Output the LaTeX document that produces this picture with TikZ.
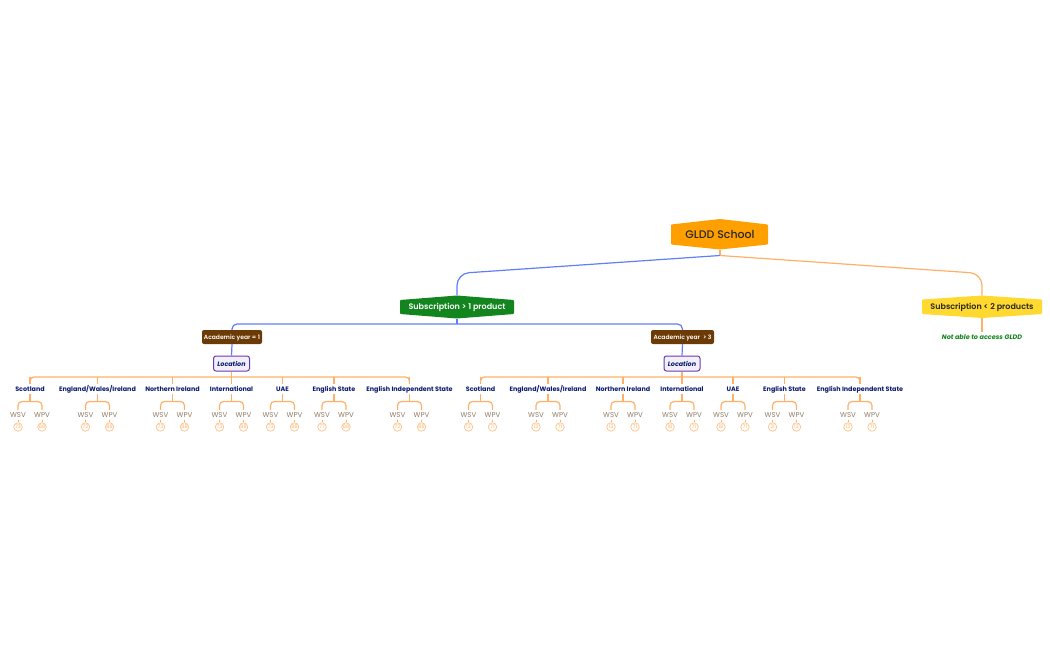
\documentclass[tikz,border=0pt]{standalone}
\usepackage{fontspec}
\setmainfont{Poppins}
\newfontfamily\medf{Poppins Medium}
\newfontfamily\semf{Poppins SemiBold}
\definecolor{bl}{HTML}{5F7EF8}
\definecolor{org}{HTML}{FFB066}
\definecolor{navy}{HTML}{0A1A6E}
\definecolor{gry}{HTML}{8F7862}
\definecolor{grn}{HTML}{12851E}
\definecolor{brn}{HTML}{6B3A05}
\definecolor{ylw}{HTML}{FFD92F}
\definecolor{rootc}{HTML}{FF9F00}
\definecolor{purp}{HTML}{6A3AB2}
\tikzset{
 x=1pt,y=-1pt,
 fixh/.style={text height=.72em,text depth=.2em,inner sep=0pt},
 blueln/.style={draw=bl,line width=1.2pt,rounded corners=5pt},
 orgln/.style={draw=org,line width=1.2pt,rounded corners=4pt},
 hexlbl/.style={fixh,font=\fontsize{8}{9}\selectfont\semf},
 acad/.style={fixh,fill=brn,text=white,rounded corners=2pt,minimum height=14pt,font=\fontsize{6}{7}\selectfont\semf},
 locbox/.style={fixh,fill=purp!8,draw=purp,line width=1pt,rounded corners=2.5pt,minimum height=15pt,text=navy,font=\fontsize{6.4}{7}\selectfont\bfseries\itshape},
 place/.style={fixh,text=navy,font=\fontsize{6.4}{7}\selectfont\bfseries},
 mtr/.style={fixh,text=gry,font=\fontsize{7}{8}\selectfont},
 num/.style={circle,draw=org!80,line width=.7pt,minimum size=8.5pt,inner sep=0pt,text=org,font=\fontsize{5}{5}\selectfont},
}
\newcommand{\leafgrp}[7]{% id, label x, label, wsv x, wpv x, n1, n2
 \node[place] (p#1) at (#2,389) {#3};
 \node[mtr] (s#1) at (#4,414.7) {WSV};
 \node[mtr] (v#1) at (#5,414.7) {WPV};
 \node[num] (ns#1) at (#4,427) {#6};
 \node[num] (nv#1) at (#5,427) {#7};
 \draw[orgln] (#2,377) -- (p#1.north);
 \draw[orgln] (p#1.south) -- (#2,401.5);
 \draw[orgln] (s#1.north) -- (#4,401.5) -- (#5,401.5) -- (v#1.north);
 \draw[orgln,line width=.7pt] (s#1.south) -- (ns#1.north);
 \draw[orgln,line width=.7pt] (v#1.south) -- (nv#1.north);
}
\begin{document}
\begin{tikzpicture}
\useasboundingbox (0,0) rectangle (1050,650);
% hexagons
\fill[rootc,rounded corners=1pt] (671,224.5) -- (720,219) -- (768,224.5) -- (768,244.5) -- (720,249.5) -- (671,244.5) -- cycle;
\fill[grn,rounded corners=1pt] (400,300) -- (457,295.5) -- (514,300) -- (514,314) -- (457,318.5) -- (400,314) -- cycle;
\fill[ylw,rounded corners=1pt] (922,299.5) -- (982,295.5) -- (1042,299.5) -- (1042,314) -- (982,318) -- (922,314) -- cycle;
\node[hexlbl,font=\fontsize{11}{12}\selectfont\medf,text=black!85] (root) at (720,235.5) {GLDD School};
\node[hexlbl,text=white,minimum height=23pt] (sub1) at (457,307) {Subscription > 1 product};
\node[hexlbl,text=black!85,minimum height=22.5pt] (sub2) at (982,306.75) {Subscription < 2 products};
\node[acad,minimum width=60pt] (ac1) at (232,337) {Academic year = 1};
\node[acad,minimum width=63pt] (ac3) at (682.5,337) {Academic year \ > 3};
\node[locbox,minimum width=36pt] (loc1) at (231.5,363.5) {Location};
\node[locbox,minimum width=36pt] (loc3) at (682,363.5) {Location};
\node[fixh,text=grn,font=\fontsize{6.5}{7}\selectfont\bfseries\itshape] (na) at (982,337) {Not able to access GLDD};
% named junctions
\coordinate (jr) at (720,255.5);
\coordinate (ja) at (457,273.5);
\coordinate (jb) at (982,273.5);
\coordinate (jc) at (457,324);
\coordinate (jl) at (232,324);
\coordinate (jm) at (682.5,324);
% connectors
\draw[orgln] (720,249.5) -- (jr);
\draw[blueln,rounded corners=12pt] (jr) -- (ja) -- (sub1.north);
\draw[orgln,rounded corners=12pt] (jr) -- (jb) -- (982,295.5);
\draw[orgln] (982,318) -- (na.north);
\draw[blueln] (sub1.south) -- (jc);
\draw[blueln] (ac1.north) -- (jl) -- (jm) -- (ac3.north);
\draw[blueln] (ac1.south) -- (loc1.north);
\draw[blueln] (ac3.south) -- (loc3.north);
\coordinate (o1) at (231.5,377);
\coordinate (o3) at (682,377);
\draw[orgln] (loc1.south) -- (o1);
\draw[orgln] (loc3.south) -- (o3);
\draw[orgln] (30,382) -- (30,377) -- (409.5,377) -- (409.5,382);
\draw[orgln] (480.5,382) -- (480.5,377) -- (860,377) -- (860,382);
% leaves left
\leafgrp{a}{30}{Scotland}{18}{42}{73}{88}
\leafgrp{b}{97.5}{England/Wales/Ireland}{85.5}{109.5}{72}{88}
\leafgrp{c}{172.5}{Northern Ireland}{160.5}{184.5}{73}{88}
\leafgrp{d}{231.5}{International}{219.5}{243.5}{73}{88}
\leafgrp{e}{282.5}{UAE}{270.5}{294.5}{73}{88}
\leafgrp{f}{334}{English State}{322}{346}{77}{88}
\leafgrp{g}{409.5}{English Independent State}{397.5}{421.5}{72}{88}
% leaves right
\leafgrp{h}{480.5}{Scotland}{468.5}{492.5}{13}{71}
\leafgrp{i}{548}{England/Wales/Ireland}{536}{560}{13}{71}
\leafgrp{j}{623}{Northern Ireland}{611}{635}{13}{71}
\leafgrp{k}{682}{International}{670}{694}{18}{71}
\leafgrp{l}{733}{UAE}{721}{745}{18}{71}
\leafgrp{m}{784.5}{English State}{772.5}{796.5}{21}{13}
\leafgrp{n}{860}{English Independent State}{848}{872}{13}{71}
\end{tikzpicture}
\end{document}
